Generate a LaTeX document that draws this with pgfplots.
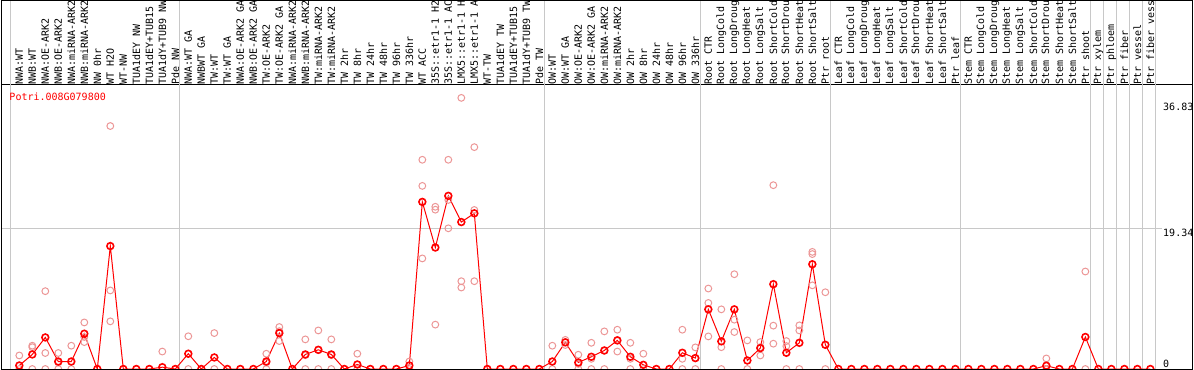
\documentclass[border=0pt]{standalone}
\usepackage{pgfplots}
\pgfplotsset{compat=1.18}
\usepackage{pgfplotstable}
\usepackage{fontspec}
\newfontfamily\monofont{DejaVu Sans Mono}
\newcommand{\lblfont}{\monofont\fontsize{10bp}{12bp}\selectfont}
\definecolor{meanred}{RGB}{255,0,0}
\definecolor{repred}{RGB}{236,150,150}
\definecolor{sepgray}{RGB}{200,200,200}

\pgfplotstableread{
x y
1 0.48
2 2.0
3 4.34
4 1.03
5 1.03
6 4.85
7 0
8 16.9
9 0
10 0
11 0
12 0.25
13 0
14 2.1
15 0
16 1.59
17 0
18 0
19 0
20 1.03
21 4.94
22 0
23 2.0
24 2.64
25 2.0
26 0
27 0.62
28 0
29 0
30 0
31 0.48
32 22.97
33 16.7
34 23.8
35 20.2
36 21.4
37 0
38 0
39 0
40 0
41 0
42 1.03
43 3.66
44 0.9
45 1.68
46 2.55
47 3.93
48 1.68
49 0.57
50 0
51 0
52 2.23
53 1.5
54 8.2
55 3.8
56 8.2
57 1.17
58 2.87
59 11.66
60 2.23
61 3.6
62 14.4
63 3.33
64 0
65 0
66 0
67 0
68 0
69 0
70 0
71 0
72 0
73 0
74 0
75 0
76 0
77 0
78 0
79 0
80 0.45
81 0
82 0
83 4.4
84 0
85 0
86 0
87 0
88 0
}\meantable

\pgfplotstableread{
x y
1 1.86
1 0
2 3.2
2 3.0
2 0
3 10.7
3 2.2
3 0
4 2.2
4 0.9
4 0
5 3.2
5 0
6 6.4
6 3.7
6 4.4
8 33.4
8 10.8
8 6.55
12 2.4
14 4.5
14 0
16 4.94
16 0
20 2.1
20 0.9
20 0
21 5.77
21 3.84
21 5.2
23 4.07
23 1.9
23 0
24 5.3
24 2.6
24 0
25 4.07
25 1.9
25 0
27 2.1
27 0
31 1.03
31 0
32 28.76
32 25.17
32 15.2
33 22.3
33 21.9
33 6.1
34 28.76
34 23.24
34 19.34
35 37.27
35 12.07
35 11.2
36 30.5
36 21.86
36 12.07
42 3.2
42 0
43 4.0
43 3.7
43 3.3
44 1.96
44 0.7
44 0
45 3.6
45 1.4
45 0
46 5.17
46 2.5
46 0
47 5.4
47 2.4
47 4.0
48 3.6
48 1.4
48 0
49 2.1
49 0
52 5.4
52 1.4
52 0
53 2.97
53 1.5
53 0
54 11.06
54 9.08
54 4.48
55 8.2
55 3.0
55 0
56 13.03
56 6.78
56 5.08
57 3.93
57 0
58 3.7
58 1.86
58 3.0
59 25.27
59 5.96
59 3.48
60 3.84
60 3.15
60 0
61 6.0
61 5.3
61 0
62 16.1
62 15.8
62 11.5
63 10.55
63 0
80 1.45
80 0
83 13.4
83 0
}\reptable

\begin{document}
\begin{tikzpicture}
\useasboundingbox (-1.7bp,-1bp) rectangle (1192.3bp,369bp);
\clip (-1.7bp,-1bp) rectangle (1192.3bp,369bp);
\begin{axis}[
  at={(0,0)}, anchor=south west,
  scale only axis, width=1190.3bp, height=284bp,
  xmin=-0.354, xmax=91.208, ymin=0, ymax=39.04,
  clip=false,
  axis line style={black, line width=1bp},
  xtick={1,...,88},
  xticklabels={NWA:WT,NWB:WT,NWA:OE-ARK2,NWB:OE-ARK2,NWA:miRNA-ARK2,NWB:miRNA-ARK2,NW 0hr,WT H2O,WT-NW,TUA1dEY NW,TUA1dEY+TUB15 NW,TUA1dY+TUB9 NW,Pde NW,NWA:WT GA,NWBWT GA,TW:WT,TW:WT GA,NWA:OE-ARK2 GA,NWB:OE-ARK2 GA,TW:OE-ARK2,TW:OE-ARK2 GA,NWA:miRNA-ARK2,NWB:miRNA-ARK2,TW:miRNA-ARK2,TW:miRNA-ARK2,TW 2hr,TW 8hr,TW 24hr,TW 48hr,TW 96hr,TW 336hr,WT ACC,35S::etr1-1 H2O,35S::etr1-1 ACC,LMX5::etr1-1 H2O,LMX5::etr1-1 ACC,WT-TW,TUA1dEY TW,TUA1dEY+TUB15 TW,TUA1dY+TUB9 TW,Pde TW,OW:WT,OW:WT GA,OW:OE-ARK2,OW:OE-ARK2 GA,OW:miRNA-ARK2,OW:miRNA-ARK2,OW 2hr,OW 8hr,OW 24hr,OW 48hr,OW 96hr,OW 336hr,Root CTR,Root LongCold,Root LongDrought,Root LongHeat,Root LongSalt,Root ShortCold,Root ShortDrought,Root ShortHeat,Root ShortSalt,Ptr root,Leaf CTR,Leaf LongCold,Leaf LongDrought,Leaf LongHeat,Leaf LongSalt,Leaf ShortCold,Leaf ShortDrought,Leaf ShortHeat,Leaf ShortSalt,Ptr leaf,Stem CTR,Stem LongCold,Stem LongDrought,Stem LongHeat,Stem LongSalt,Stem ShortCold,Stem ShortDrought,Stem ShortHeat,Stem ShortSalt,Ptr shoot,Ptr xylem,Ptr phloem,Ptr fiber,Ptr vessel,Ptr fiber vessel},
  xticklabel pos=upper,
  xtick pos=upper,
  major tick length=0pt,
  xticklabel style={rotate=90, anchor=west, inner sep=0pt, font=\lblfont, yshift=0bp},
  ytick=\empty,
]
\draw[sepgray, line width=1bp] (axis cs:0.36,0) -- (axis cs:0.36,55);
\draw[sepgray, line width=1bp] (axis cs:13.36,0) -- (axis cs:13.36,55);
\draw[sepgray, line width=1bp] (axis cs:41.36,0) -- (axis cs:41.36,55);
\draw[sepgray, line width=1bp] (axis cs:53.36,0) -- (axis cs:53.36,55);
\draw[sepgray, line width=1bp] (axis cs:63.36,0) -- (axis cs:63.36,55);
\draw[sepgray, line width=1bp] (axis cs:73.36,0) -- (axis cs:73.36,55);
\draw[sepgray, line width=1bp] (axis cs:83.36,0) -- (axis cs:83.36,55);
\draw[sepgray, line width=1bp] (axis cs:84.36,0) -- (axis cs:84.36,55);
\draw[sepgray, line width=1bp] (axis cs:85.36,0) -- (axis cs:85.36,55);
\draw[sepgray, line width=1bp] (axis cs:86.36,0) -- (axis cs:86.36,55);
\draw[sepgray, line width=1bp] (axis cs:87.36,0) -- (axis cs:87.36,55);
\draw[sepgray, line width=1bp] (axis cs:88.36,0) -- (axis cs:88.36,55);
\draw[sepgray, line width=1bp] (axis cs:-0.354,19.34) -- (axis cs:88.9,19.34);
\addplot[only marks, mark=o, mark size=3.4bp, mark options={repred, line width=1bp}] table {\reptable};
\addplot[meanred, line width=1bp, mark=o, mark size=3.4bp, mark options={line width=1.6bp}] table {\meantable};
\end{axis}
\node[anchor=base west, inner sep=0pt, text=meanred, font=\lblfont] at (7.6bp,268.5bp) {Potri.008G079800};
\node[anchor=north west, inner sep=0pt, font=\lblfont] at (1161.3bp,266bp) {36.83};
\node[anchor=north west, inner sep=0pt, font=\lblfont] at (1161.3bp,140bp) {19.34};
\node[anchor=base west, inner sep=0pt, font=\lblfont] at (1161.3bp,1.5bp) {0};
\draw[line width=1bp] (0,0) rectangle (1190.3bp,368.5bp);
\end{tikzpicture}
\end{document}
